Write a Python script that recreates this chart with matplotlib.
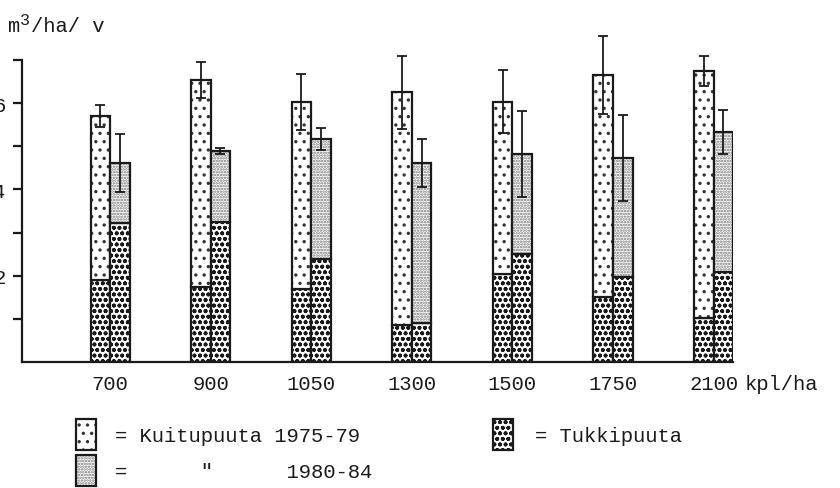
import numpy as np
import matplotlib
matplotlib.use('Agg')
from matplotlib import pyplot as plt
from matplotlib.patches import Rectangle

plt.rcParams['font.family'] = ['Liberation Mono', 'DejaVu Sans Mono']
plt.rcParams['hatch.linewidth'] = 1.2

# stand densities (kpl/ha)
categories = ['700', '900', '1050', '1300', '1500', '1750', '2100']

# 1975-79: tukkipuuta + kuitupuuta, m3/ha/v
tukki_1 = [1.90, 1.74, 1.69, 0.85, 2.04, 1.51, 1.02]
kuitu_1 = [3.80, 4.79, 4.33, 5.40, 3.99, 5.14, 5.72]
err_1 = [0.25, 0.42, 0.65, 0.85, 0.73, 0.90, 0.35]

# 1980-84
tukki_2 = [3.22, 3.24, 2.39, 0.90, 2.50, 1.97, 2.09]
kuitu_2 = [1.39, 1.65, 2.78, 3.71, 2.32, 2.76, 3.24]
err_2 = [0.67, 0.08, 0.25, 0.55, 1.00, 1.00, 0.50]

ink = '#1a1a1a'
W = 0.194
fs = 14.8

fig = plt.figure(figsize=(8.4, 4.89), dpi=100)
ax = fig.add_axes([22/840, 1-363/489, (733-22)/840, (363-61)/489])

x = np.arange(len(categories))
x1 = x - W/2
x2 = x + W/2

def hbar(xs, h, b, hatch, hc):
    # hatch fill, then outline on top
    ax.bar(xs, h, W, bottom=b, color='white', hatch=hatch, edgecolor=hc, linewidth=0)
    ax.bar(xs, h, W, bottom=b, fill=False, edgecolor=ink, linewidth=1.6)

hbar(x1, tukki_1, 0, 'ooo', ink)
hbar(x1, kuitu_1, tukki_1, '..', '#333333')
hbar(x2, tukki_2, 0, 'ooo', ink)
hbar(x2, kuitu_2, tukki_2, '......', '#777777')

tot_1 = np.add(tukki_1, kuitu_1)
tot_2 = np.add(tukki_2, kuitu_2)
for xs, tot, err in ((x1, tot_1, err_1), (x2, tot_2, err_2)):
    eb = ax.errorbar(xs, tot, yerr=err, fmt='none', ecolor=ink, elinewidth=1.3,
                     capsize=3.6, capthick=1.3)
    for a in eb.lines[1] + eb.lines[2]:
        a.set_clip_on(False)

ax.set_xlim(-0.875, 6.193)
ax.set_ylim(0, 7)
ax.spines['top'].set_visible(False)
ax.spines['right'].set_visible(False)
for s in ('left', 'bottom'):
    ax.spines[s].set_linewidth(1.6)
    ax.spines[s].set_color(ink)

ax.set_xticks(x)
ax.set_xticklabels(categories, fontsize=fs, color=ink)
ax.tick_params(axis='x', length=0, pad=9)
ax.set_yticks(range(1, 8))
ax.set_yticklabels(['', '2', '', '4', '', '6', ''], fontsize=fs, color=ink)
ax.tick_params(axis='y', length=6.5, width=1.6, color=ink, pad=5.5)

# unit label with a large superscript 3
fig.text(7/840, 1-32/489, 'm', fontsize=fs, color=ink, va='baseline')
fig.text(20/840, 1-25/489, '3', fontsize=12, color=ink, va='baseline')
fig.text(31/840, 1-32/489, '/ha/ v', fontsize=fs, color=ink, va='baseline')
fig.text(745/840, 1-390/489, 'kpl/ha', fontsize=fs, color=ink, va='baseline')

# legend
def lpatch(px, py, hatch, hc):
    r = Rectangle((px/840, 1-(py+31)/489), 20/840, 31/489, transform=fig.transFigure,
                  facecolor='white', hatch=hatch, edgecolor=hc, linewidth=0)
    fig.add_artist(r)
    r2 = Rectangle((px/840, 1-(py+31)/489), 20/840, 31/489, transform=fig.transFigure,
                   fill=False, edgecolor=ink, linewidth=1.6)
    fig.add_artist(r2)

lpatch(76, 420, '..', '#333333')
lpatch(76, 456, '......', '#777777')
lpatch(493, 420, 'ooo', ink)
fig.text(115/840, 1-442/489, '= Kuitupuuta 1975-79', fontsize=fs, color=ink, va='baseline')
fig.text(115/840, 1-478/489, '=      "      1980-84', fontsize=fs, color=ink, va='baseline')
fig.text(535/840, 1-442/489, '= Tukkipuuta', fontsize=fs, color=ink, va='baseline')

fig.savefig('out.png', dpi=100)
